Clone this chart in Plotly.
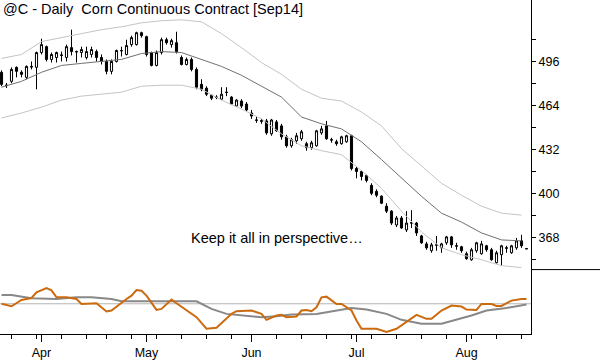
import plotly.graph_objects as go
import pandas as pd

# ---- trading days (Sep14 corn, daily) ----
dates = pd.bdate_range("2014-03-20", "2014-08-19")
dates = dates[~dates.isin(pd.to_datetime(["2014-04-18", "2014-05-26", "2014-07-04"]))]
bar_idx = list(range(len(dates)))

# ---- OHLC (cents/bu) ----
open_ = [488.3, 479.0, 481.7, 491.9, 488.3, 484.6, 492.6, 491.9, 502.7, 507.0,
         497.7, 499.1, 500.6, 499.1, 506.3, 503.4, 502.7, 499.1, 501.3, 503.4,
         499.1, 496.2, 489.0, 496.2, 504.2, 501.3, 508.5, 508.5, 517.2, 514.3,
         502.7, 493.3, 502.7, 512.1, 508.5, 509.9, 499.1, 494.0, 497.7, 490.4,
         479.5, 476.7, 471.6, 470.2, 468.7, 473.8, 470.2, 463.7, 467.3, 465.1,
         458.6, 453.5, 453.0, 452.8, 443.4, 452.1, 449.2, 441.2, 434.7, 438.3,
         439.8, 436.2, 433.3, 434.7, 444.1, 449.2, 439.1, 437.6, 436.2, 437.6,
         442.0, 418.1, 415.9, 413.0, 405.8, 401.4, 397.9, 390.6, 387.0, 376.9,
         382.0, 373.3, 378.6, 378.3, 368.9, 363.1, 358.1, 362.4, 360.2, 363.9,
         368.2, 361.7, 361.0, 355.9, 351.5, 358.1, 355.9, 361.7, 358.8, 349.4,
         355.2, 360.2, 356.6, 360.2, 365.3, 359.7]
high = [489.7, 480.5, 491.9, 492.6, 489.7, 493.3, 496.2, 503.4, 512.8, 507.8,
        502.7, 503.4, 503.4, 508.5, 519.4, 504.2, 507.0, 507.0, 507.0, 504.9,
        501.3, 497.7, 497.7, 504.9, 507.0, 512.1, 515.0, 517.9, 517.9, 515.0,
        503.4, 504.2, 513.6, 513.6, 512.8, 517.9, 500.6, 499.1, 499.1, 491.9,
        483.2, 478.1, 472.3, 471.6, 477.4, 477.4, 470.9, 468.7, 468.7, 466.6,
        460.8, 455.7, 454.3, 454.3, 454.3, 453.5, 450.7, 442.7, 440.5, 444.1,
        446.3, 437.6, 438.3, 446.3, 449.2, 452.8, 440.5, 439.1, 442.0, 442.7,
        442.7, 419.5, 416.7, 413.8, 407.3, 402.9, 398.6, 392.8, 387.7, 383.4,
        383.4, 387.0, 387.7, 379.1, 369.7, 364.6, 363.9, 368.9, 363.9, 368.9,
        368.9, 363.9, 361.7, 357.4, 360.2, 364.6, 365.3, 362.4, 360.2, 358.1,
        362.4, 361.7, 362.4, 367.4, 369.7, 359.9]
low = [478.1, 476.8, 480.3, 484.6, 484.6, 483.2, 490.4, 475.9, 501.3, 496.2,
       495.4, 495.4, 496.2, 496.2, 500.6, 495.4, 499.1, 497.7, 499.1, 496.2,
       494.0, 486.8, 486.8, 495.4, 499.8, 500.6, 507.0, 507.8, 513.6, 499.8,
       492.6, 492.6, 501.3, 508.5, 506.3, 502.0, 493.3, 493.3, 489.0, 475.9,
       474.5, 470.9, 468.0, 468.7, 468.0, 470.9, 464.4, 463.0, 462.2, 459.3,
       454.3, 451.4, 450.7, 442.7, 442.0, 444.9, 439.1, 433.3, 433.3, 436.2,
       438.3, 431.1, 431.8, 434.0, 442.7, 439.1, 436.9, 434.7, 435.5, 436.9,
       416.7, 410.9, 409.4, 408.0, 398.6, 397.1, 392.1, 385.6, 376.9, 375.4,
       374.0, 371.8, 374.7, 368.9, 363.1, 358.8, 356.6, 358.1, 356.6, 362.4,
       360.2, 358.8, 356.6, 351.5, 350.8, 356.6, 355.2, 357.4, 350.8, 348.7,
       347.2, 356.6, 355.9, 358.8, 360.2, 359.3]
close = [479.5, 478.6, 490.4, 489.0, 486.8, 492.6, 492.2, 502.7, 508.5, 497.7,
         501.3, 502.7, 500.9, 507.0, 503.4, 503.2, 504.9, 503.4, 504.9, 499.1,
         496.2, 489.0, 496.2, 504.2, 504.0, 507.8, 513.6, 517.2, 515.0, 501.3,
         493.3, 502.7, 512.1, 509.9, 511.4, 503.4, 494.0, 497.7, 490.4, 477.4,
         476.0, 472.3, 469.4, 470.0, 472.3, 473.6, 465.1, 468.0, 463.7, 460.8,
         456.4, 453.3, 452.6, 444.1, 453.5, 445.6, 441.2, 434.7, 439.1, 442.0,
         444.9, 433.3, 436.9, 445.6, 447.0, 439.8, 438.9, 436.2, 441.2, 442.0,
         418.1, 415.9, 412.3, 409.4, 400.0, 398.6, 392.8, 387.0, 378.3, 382.0,
         374.7, 378.3, 378.3, 371.1, 363.9, 360.2, 362.4, 362.2, 363.1, 368.2,
         362.4, 361.5, 358.1, 352.3, 358.8, 363.9, 363.1, 358.8, 351.5, 356.6,
         361.7, 360.0, 361.7, 365.3, 361.7, 359.5]

# ---- average and channel bands (read every 4 bars) ----
band_idx = [0, 4, 8, 12, 16, 20, 24, 28, 32, 36, 40, 44, 48, 52, 56, 60, 64,
            68, 72, 76, 80, 84, 88, 92, 96, 100, 104]
mid_line = [477.4, 481.7, 488.3, 493.3, 494.8, 496.2, 497.7, 502.0, 503.4, 502.7,
            497.7, 492.6, 486.1, 478.1, 470.2, 455.7, 450.7, 447.0, 437.6, 424.6,
            410.9, 397.8, 385.5, 379.0, 371.1, 366.0, 365.3]
upper_band = [498.4, 501.3, 510.7, 513.6, 516.5, 519.4, 521.5, 524.4, 525.9, 526.6,
              525.1, 516.5, 506.3, 495.4, 486.8, 475.9, 469.4, 467.3, 459.3, 449.2,
              432.6, 420.3, 407.3, 398.6, 390.6, 385.5, 384.1]
lower_band = [455.0, 458.6, 462.9, 468.0, 470.9, 472.3, 473.8, 478.1, 478.9, 478.9,
              475.9, 468.0, 461.5, 454.3, 443.4, 434.7, 431.1, 428.2, 416.7, 403.6,
              387.0, 371.8, 360.2, 355.2, 351.5, 347.2, 345.8]

# ---- oscillator panel ----
osc_fast_idx = [0, 2, 4, 6, 7, 9, 10, 11, 13, 15, 16, 19, 21, 22, 25, 26, 27, 28,
                29, 31, 32, 34, 35, 37, 39, 41, 43, 46, 47, 50, 52, 53, 55, 56, 57,
                59, 60, 61, 62, 63, 64, 65, 67, 68, 70, 71, 72, 75, 77, 79, 80, 82,
                83, 85, 86, 88, 90, 92, 93, 95, 96, 98, 99, 100, 102, 104, 105]
osc_fast = [0.0, -2.5, 3.8, 5.8, 11.5, 15.8, 13.5, 6.5, 6.5, 4.8, -0.2, 0.5, -7.8,
            -6.8, 4.8, 8.2, 13.8, 13.2, 8.2, -6.2, -5.2, 4.2, 0.5, -6.8, -13.5,
            -25.2, -24.2, -10.2, -7.5, -6.8, -10.2, -16.2, -11.8, -11.2, -13.5,
            -12.8, -6.8, -6.2, -7.5, -3.5, 6.5, 7.2, -0.2, -0.2, -6.8, -16.8,
            -25.2, -25.2, -28.5, -25.2, -21.8, -15.2, -11.2, -15.2, -15.2, -6.8,
            -1.8, -2.8, -5.8, -6.2, -0.2, -0.2, -2.2, -2.2, 3.2, 4.8, 4.8]
osc_slow_idx = [0, 2, 6, 11, 15, 18, 22, 24, 39, 42, 45, 49, 52, 55, 58, 63, 66,
                70, 73, 77, 80, 84, 88, 91, 94, 97, 101, 105]
osc_slow = [8.8, 8.8, 5.5, 4.8, 6.5, 6.5, 4.8, 2.5, 2.5, -5.2, -10.2, -12.5, -13.5,
            -12.5, -10.8, -10.2, -7.5, -4.2, -5.8, -10.2, -16.2, -20.2, -20.2,
            -16.2, -11.8, -6.8, -4.2, -0.8]
osc_ref = 0

# ---- axis ticks derived from the trading calendar ----
month_idx = [i for i in range(1, len(dates)) if dates[i].month != dates[i - 1].month]
month_lbl = [dates[i].strftime("%b") for i in month_idx]
week_idx = [i for i in range(1, len(dates))
            if dates[i].weekday() <= dates[i - 1].weekday() and i not in month_idx]
price_ticks = [368, 400, 432, 464, 496]
price_minor = [352, 384, 416, 448, 480, 512]

FONT = "Liberation Sans"

fig = go.Figure()
fig.add_trace(go.Scatter(x=band_idx, y=upper_band, mode="lines",
                         line=dict(color="#c4c4c4", width=1), hoverinfo="skip"))
fig.add_trace(go.Scatter(x=band_idx, y=lower_band, mode="lines",
                         line=dict(color="#c4c4c4", width=1), hoverinfo="skip"))
fig.add_trace(go.Scatter(x=band_idx, y=mid_line, mode="lines",
                         line=dict(color="#707070", width=1), hoverinfo="skip"))
fig.add_trace(go.Candlestick(
    x=bar_idx, open=open_, high=high, low=low, close=close,
    increasing=dict(line=dict(color="black", width=1), fillcolor="white"),
    decreasing=dict(line=dict(color="black", width=1), fillcolor="black"),
    whiskerwidth=0, xaxis="x", yaxis="y"))

fig.add_trace(go.Scatter(x=osc_slow_idx, y=osc_slow, mode="lines", xaxis="x", yaxis="y2",
                         line=dict(color="#888888", width=2)))
fig.add_trace(go.Scatter(x=osc_fast_idx, y=osc_fast, mode="lines", xaxis="x", yaxis="y2",
                         line=dict(color="#cc6a10", width=2)))

split = 65 / 337
fig.add_shape(type="line", xref="x domain", yref="y2", x0=0, x1=1, y0=osc_ref, y1=osc_ref,
              line=dict(color="#b4b4b4", width=1), layer="below")
fig.add_shape(type="line", xref="paper", yref="paper", x0=1, x1=1.2, y0=split, y1=split,
              line=dict(color="black", width=1))

fig.add_annotation(text="@C - Daily  Corn Continuous Contract [Sep14]",
                   xref="paper", yref="paper", x=0, y=1, xanchor="left", yanchor="top",
                   xshift=1, yshift=1, showarrow=False,
                   font=dict(family=FONT, size=14.5, color="#000010"))
fig.add_annotation(text="Keep it all in perspective…", xref="x", yref="y",
                   x=37.4, y=367.5, xanchor="left", yanchor="middle", showarrow=False,
                   font=dict(family=FONT, size=14.5, color="black"))

fig.update_layout(
    width=600, height=360, margin=dict(l=0, r=69, t=0, b=23),
    paper_bgcolor="white", plot_bgcolor="white", showlegend=False,
    boxgap=0.4,
    xaxis=dict(range=[-0.3, 105.9], anchor="y2", showgrid=False, zeroline=False,
               showline=True, linecolor="black", linewidth=1,
               tickmode="array", tickvals=month_idx, ticktext=month_lbl,
               ticks="outside", ticklen=7, tickcolor="black", tickwidth=1,
               minor=dict(tickmode="array", tickvals=week_idx, ticks="outside",
                          ticklen=4, tickcolor="black", showgrid=False),
               rangeslider=dict(visible=False),
               tickfont=dict(family=FONT, size=12.5, color="black")),
    yaxis=dict(domain=[split, 1], range=[344.35, 541.05], side="right", anchor="x",
               showline=True, linecolor="black", linewidth=1, showgrid=False,
               zeroline=False, tickmode="array", tickvals=price_ticks,
               ticks="outside", ticklen=4, tickcolor="black",
               minor=dict(tickmode="array", tickvals=price_minor, ticks="outside",
                          ticklen=4, tickcolor="black", showgrid=False),
               tickfont=dict(family=FONT, size=12.5, color="black")),
    yaxis2=dict(domain=[0, split], range=[-30.5, 34.5], side="right", anchor="x",
                showline=True, linecolor="black", linewidth=1, showgrid=False,
                zeroline=False, showticklabels=False, ticks=""),
)

fig.write_html("out.html", config={"displayModeBar": False},
               post_script="document.body.style.margin='0';document.body.style.padding='0';")
